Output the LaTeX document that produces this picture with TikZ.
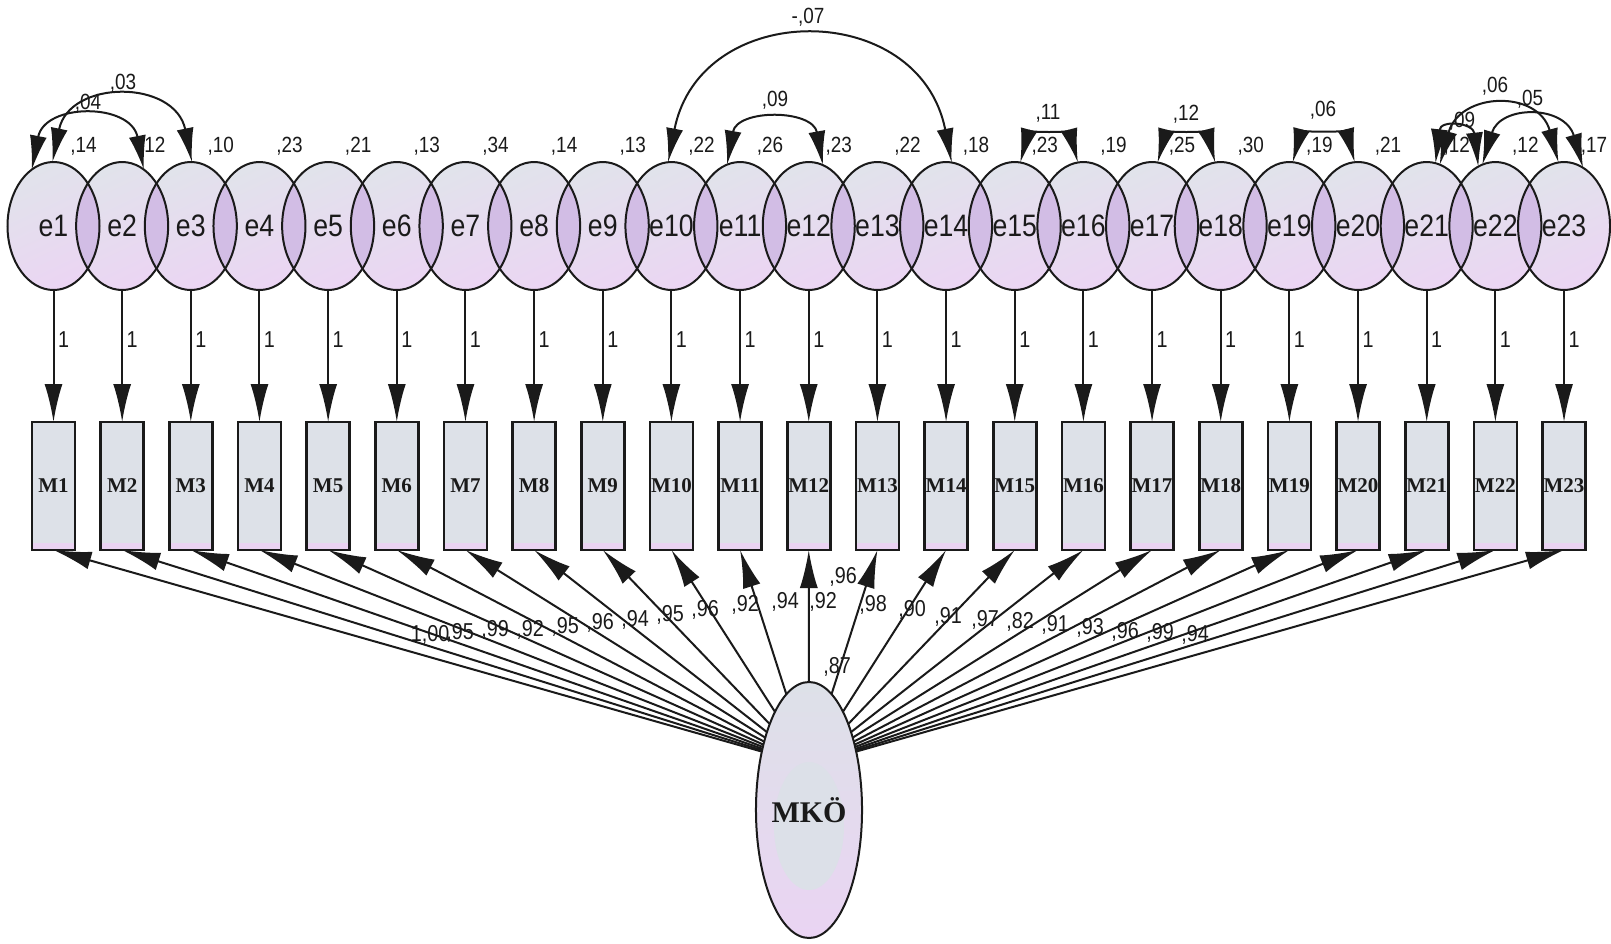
\documentclass[tikz,border=0pt]{standalone}
\usepackage{fontspec}
\usetikzlibrary{shapes.geometric,arrows.meta,calc}
\newfontfamily\labfont[FakeStretch=0.86]{Liberation Sans}
\newfontfamily\obsfont{Liberation Serif}
\definecolor{eTop}{HTML}{E1E3EB}
\definecolor{eBot}{HTML}{EBD5F3}
\definecolor{lens}{HTML}{D2BDE5}
\definecolor{boxFill}{HTML}{DDE1E8}
\definecolor{boxPink}{HTML}{EAD3F2}
\definecolor{mkoTop}{HTML}{DDE1E8}
\definecolor{mkoBot}{HTML}{EAD4F3}
\definecolor{mkoIn}{HTML}{DCE0E8}
\definecolor{ink}{HTML}{1A1A1A}
\pgfdeclarelayer{bg}
\pgfsetlayers{bg,main}

\begin{document}
\begin{tikzpicture}[x=0.5pt,y=-0.5pt,
  arr/.style={-{Latex[length=19pt,width=9pt]}, line width=1pt, draw=ink},
  cov/.style={{Latex[length=17pt,width=8.5pt]}-{Latex[length=17pt,width=8.5pt]}, line width=1pt, draw=ink},
  errnode/.style={ellipse, minimum width=46pt, minimum height=64pt, inner sep=0pt, outer sep=0pt,
    text=ink, font=\labfont\fontsize{15.5}{15.5}\selectfont},
  varlab/.style={inner sep=0pt, text=ink, font=\labfont\fontsize{11}{11}\selectfont},
  onelab/.style={inner sep=0pt, text=ink, font=\labfont\fontsize{11.5}{11.5}\selectfont},
  obsbox/.style={rectangle, draw=ink, line width=1.3pt, fill=boxFill, minimum width=21.5pt,
    minimum height=64pt, inner sep=0pt, outer sep=0pt, text=ink,
    font=\obsfont\bfseries\fontsize{10.5}{10.5}\selectfont,
    path picture={\fill[boxPink] (path picture bounding box.south west) rectangle
      ([yshift=3.5pt]path picture bounding box.south east);}},
  latent/.style={ellipse, draw=ink, line width=1pt, minimum width=42pt, minimum height=128pt,
    inner sep=0pt, outer sep=0pt, top color=mkoTop, bottom color=mkoBot, text=ink,
    font=\obsfont\bfseries\fontsize{15}{15}\selectfont,
    path picture={\fill[mkoIn] ([yshift=-8pt]path picture bounding box.center) ellipse (17.5pt and 32pt);}},
]
\useasboundingbox (0,0) rectangle (1611,943);

% centres of the error terms
\foreach \i in {1,...,23}
  \coordinate (c\i) at ({53.5+(\i-1)*68.66},226);

% error ellipses: shaded bodies, darker overlaps, outlines
\foreach \i in {1,...,23}
  \shade[top color=eTop, bottom color=eBot, shading angle=25] (c\i) ellipse (46 and 64);
\foreach \i [evaluate=\i as \j using int(\i+1)] in {1,...,22} {
  \begin{scope}
    \clip (c\i) ellipse (46 and 64);
    \fill[lens] (c\j) ellipse (46 and 64);
  \end{scope}
}
\foreach \i in {1,...,23}
  \draw[line width=1pt, ink] (c\i) ellipse (46 and 64);
\foreach \i in {1,...,23}
  \node[errnode] (e\i) at (c\i) {e\i};

% observed indicators
\foreach \i in {1,...,23}
  \node[obsbox] (M\i) at ({53.5+(\i-1)*68.66},486) {M\i};

% paths from the errors to the indicators
\foreach \i in {1,...,23} {
  \draw[arr] (e\i) -- (M\i);
  \node[onelab] at ($(e\i.center)+(10,114)$) {1};
}

% latent factor
\node[latent] (mko) at (809,810) {MKÖ};
\coordinate (hub) at ([yshift=22.5pt]mko.center);
\begin{pgfonlayer}{bg}
  \foreach \i in {1,...,23}
    \draw[arr] (hub) -- (M\i.south);
\end{pgfonlayer}
\node[onelab] at (837,667) {,87};

% factor loadings
\foreach \t/\x/\y in {{1,00}/430/635, {,95}/460/633, {,99}/495/630, {,92}/530/630,
    {,95}/565/627, {,96}/600/623, {,94}/635/620, {,95}/670/615, {,96}/705/610,
    {,92}/745/605, {,94}/785/602, {,92}/823/602, {,96}/843/577, {,98}/873/605,
    {,90}/912/610, {,91}/948/617, {,97}/985/620, {,82}/1020/622, {,91}/1055/625,
    {,93}/1090/628, {,96}/1125/632, {,99}/1160/633, {,94}/1195/635}
  \node[onelab] at (\x,\y) {\t};

% error variances
\foreach \v [count=\i] in {{,14},{,12},{,10},{,23},{,21},{,13},{,34},{,14},{,13},{,22},{,26},{,23},
    {,22},{,18},{,23},{,19},{,25},{,30},{,19},{,21},{,12},{,12},{,17}}
  \node[varlab] at ($(e\i.center)+(30,-80)$) {\v};

% error covariances
\draw[cov] (e1.111) .. controls +(13,-67) and +(-13,-67) .. (e2.69);
\draw[cov] (e1.91) .. controls +(17,-83) and +(-17,-83) .. (e3.89);
\draw[cov] (e10.93) .. controls +(32,-164) and +(-32,-164) .. (e14.85);
\draw[cov] (e11.102) .. controls +(10,-56) and +(-10,-56) .. (e12.77);
\draw[cov] (e15.85) .. controls +(8,-30) and +(-8,-30) .. (e16.95);
\draw[cov] (e17.85) .. controls +(8,-30) and +(-8,-30) .. (e18.95);
\draw[cov] (e19.87) .. controls +(8,-30) and +(-8,-30) .. (e20.93);
\draw[cov] (e21.82) .. controls +(5,-44) and +(-5,-44) .. (e22.106);
\draw[cov] (e21.78) .. controls +(20,-73) and +(-20,-73) .. (e23.95);
\draw[cov] (e22.102) .. controls +(18,-60) and +(-18,-63) .. (e23.72);

\node[varlab] at (88,103) {,04};
\node[varlab] at (123,83) {,03};
\node[varlab] at (808,17) {-,07};
\node[varlab] at (775,100) {,09};
\node[varlab] at (1048,113) {,11};
\node[varlab] at (1186,114) {,12};
\node[varlab] at (1323,110) {,06};
\node[varlab] at (1462,121) {,09};
\node[varlab] at (1495,86) {,06};
\node[varlab] at (1530,99) {,05};
\end{tikzpicture}
\end{document}
